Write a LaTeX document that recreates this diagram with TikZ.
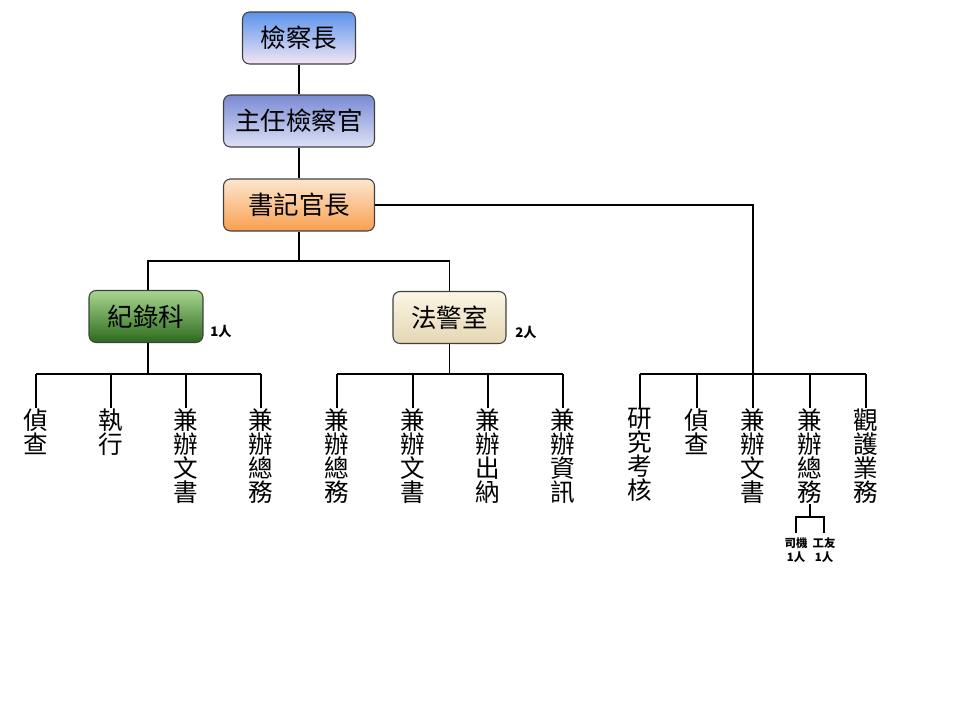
\documentclass[tikz,border=0pt]{standalone}
\usepackage{fontspec}
\setmainfont{Noto Sans CJK TC}
\usetikzlibrary{positioning}

\definecolor{chiefTop}{HTML}{5B93EC}
\definecolor{chiefBot}{HTML}{F2E6F4}
\definecolor{headTop}{HTML}{7A8AD4}
\definecolor{headBot}{HTML}{DDE1F5}
\definecolor{clerkTop}{HTML}{FDE6D0}
\definecolor{clerkBot}{HTML}{F8A04E}
\definecolor{recTop}{HTML}{A8D690}
\definecolor{recBot}{HTML}{2C6A1C}
\definecolor{polTop}{HTML}{FBF5E4}
\definecolor{polBot}{HTML}{E5D7B4}

\begin{document}
\begin{tikzpicture}[
      x=0.02cm, y=-0.02cm,
      box/.style={draw=black!75, rounded corners=4pt, minimum height=1.04cm, inner sep=2pt,
        line width=0.6pt, font=\fontsize{14.5}{16}\selectfont},
      duty/.style={anchor=north, inner sep=0pt, align=center, font=\fontsize{14}{13.7}\selectfont},
      note/.style={inner sep=0pt, align=center, font=\fontsize{7}{8}\selectfont\bfseries},
      link/.style={line width=0.6pt}
    ]
    \useasboundingbox[fill=white] (0,0) rectangle (960,720);

    % top of the chain
    \node[box, minimum width=2.26cm, top color=chiefTop, bottom color=chiefBot] (chief) at (299,38) {檢察長};
    \node[box, minimum width=3.02cm, top color=headTop, bottom color=headBot] (head) at (299,121) {主任檢察官};
    \node[box, minimum width=3.02cm, top color=clerkTop, bottom color=clerkBot] (clerk) at (299,205) {書記官長};
    \node[box, minimum width=2.28cm, top color=recTop, bottom color=recBot] (rec) at (146,316.5) {紀錄科};
    \node[box, minimum width=2.26cm, top color=polTop, bottom color=polBot] (pol) at (449.5,317.5) {法警室};
    \node[note, font=\fontsize{7.5}{8}\selectfont\bfseries] (recnum) at (221,331) {1人};
    \node[note, font=\fontsize{7.5}{8}\selectfont\bfseries] (polnum) at (526,332) {2人};

    \draw[link] (chief) -- (head);
    \draw[link] (head) -- (clerk);
    \coordinate (midbus) at (299,261);
    \draw[link] (clerk.south) -- (midbus);
    \draw[link] (rec.north -| 148,0) |- (midbus) -| (pol.north);

    % duties
    \node[duty] (r1) at (36,408) {偵\\查};
    \node[duty] (r2) at (111,408) {執\\行};
    \node[duty] (r3) at (186,408) {兼\\辦\\文\\書};
    \node[duty] (r4) at (261,408) {兼\\辦\\總\\務};
    \node[duty] (p1) at (337,408) {兼\\辦\\總\\務};
    \node[duty] (p2) at (413,408) {兼\\辦\\文\\書};
    \node[duty] (p3) at (488,408) {兼\\辦\\出\\納};
    \node[duty] (p4) at (563,408) {兼\\辦\\資\\訊};
    \node[duty] (c1) at (640,408) {研\\究\\考\\核};
    \node[duty] (c2) at (697,408) {偵\\查};
    \node[duty] (c3) at (753,408) {兼\\辦\\文\\書};
    \node[duty] (c4) at (810,408) {兼\\辦\\總\\務};
    \node[duty] (c5) at (866,408) {觀\\護\\業\\務};

    \coordinate (recbus) at (148,374);
    \coordinate (polbus) at (449.5,374);
    \coordinate (clerkbus) at (753,374);
    \draw[link] (rec.south -| recbus) -- (recbus);
    \draw[link] (pol.south) -- (polbus);
    \draw[link] (clerk.east) -| (clerkbus);
    \draw[link] (r1.north |- recbus) -- (r4.north |- recbus);
    \draw[link] (p1.north |- polbus) -- (p4.north |- polbus);
    \draw[link] (c1.north |- clerkbus) -- (c5.north |- clerkbus);
    \foreach \n in {r1,r2,r3,r4} \draw[link] (\n.north) -- (\n.north |- recbus);
    \foreach \n in {p1,p2,p3,p4} \draw[link] (\n.north) -- (\n.north |- polbus);
    \foreach \n in {c1,c2,c3,c4,c5} \draw[link] (\n.north) -- (\n.north |- clerkbus);

    % staff under c4
    \node[note, font=\fontsize{6.5}{8}\selectfont\bfseries, anchor=north] (driver) at (796,537) {司機\\1人};
    \node[note, font=\fontsize{6.5}{8}\selectfont\bfseries, anchor=north] (worker) at (824,537) {工友\\1人};
    \coordinate (staffbus) at (810,517);
    \draw[link] (c4.south) -- (staffbus);
    \draw[link] ([yshift=2pt]driver.north) |- (staffbus) -| ([yshift=2pt]worker.north);
  \end{tikzpicture}
\end{document}
